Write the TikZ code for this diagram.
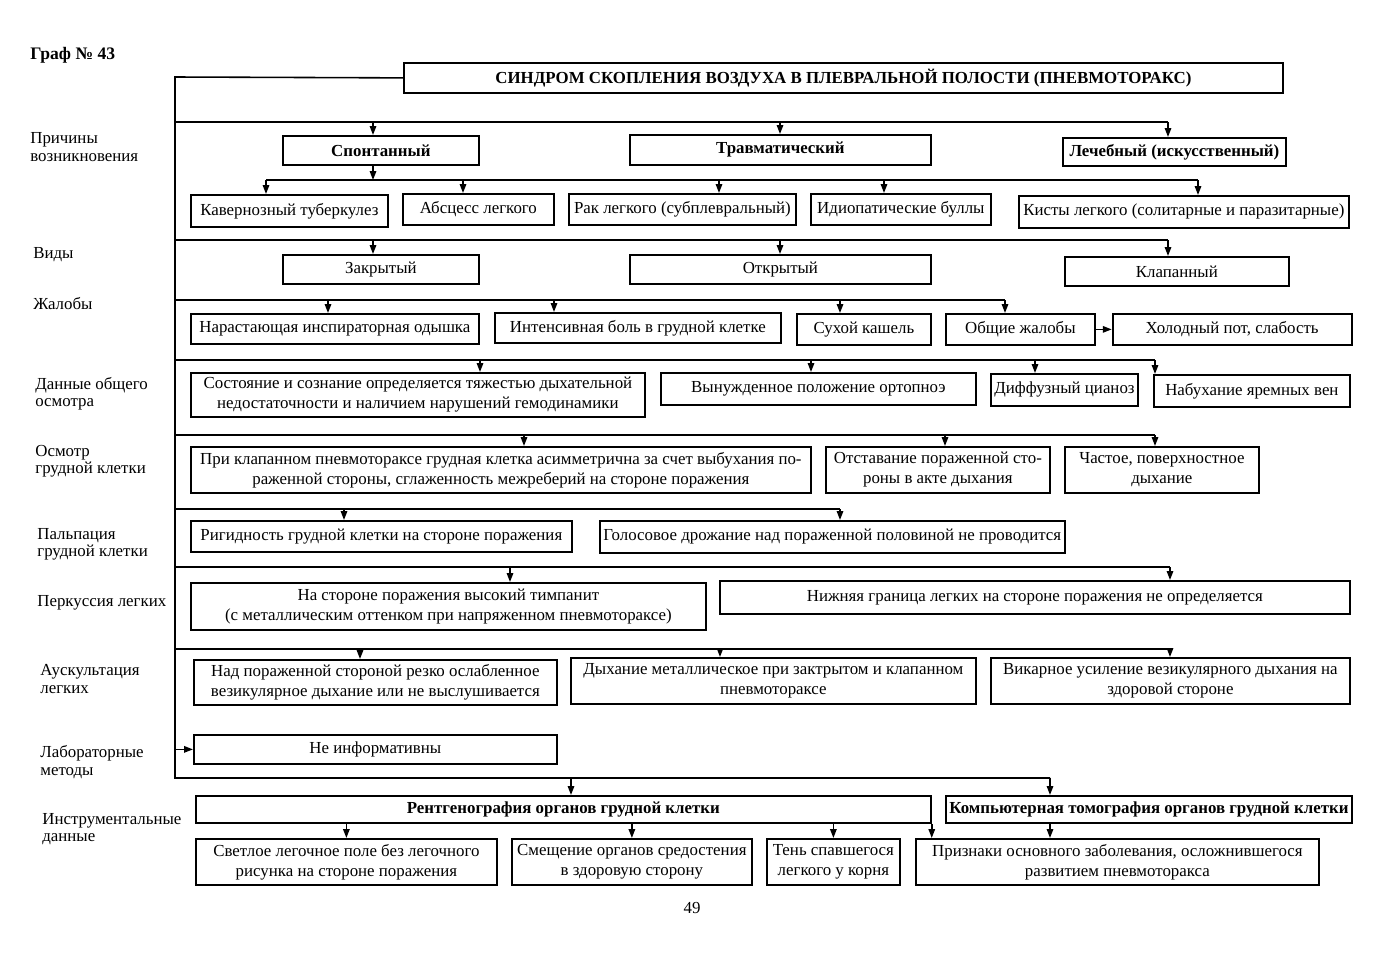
\documentclass[tikz,border=0pt]{standalone}
\usepackage{fontspec}
\setmainfont{Liberation Serif}
\usepackage{tikz}
\usetikzlibrary{arrows.meta, positioning, calc}

\begin{document}
\begin{tikzpicture}[
  x=0.02cm, y=-0.02cm,
  every node/.style={font=\fontsize{9.6}{11.3}\selectfont},
  box/.style={draw, line width=1pt, align=center, inner sep=2pt, anchor=north west},
  wh/.style 2 args={minimum width=#1*0.02cm, minimum height=#2*0.02cm},
  lbl/.style={anchor=west, align=left, inner sep=0pt, font=\fontsize{9.6}{9.8}\selectfont},
  line/.style={line width=0.9pt},
  arr/.style={line width=0.9pt, -{Triangle[length=5pt,width=3.6pt]}}
]
  \useasboundingbox (0,0) rectangle (1379,960);

  \node[anchor=west, inner sep=0pt, font=\bfseries\fontsize{10}{12}\selectfont] (graf) at (30,55) {Граф № 43};
  \node[box, wh={879}{30}, font=\bfseries\fontsize{9.6}{11.3}\selectfont] (title) at (403,62)
    {СИНДРОМ СКОПЛЕНИЯ ВОЗДУХА В ПЛЕВРАЛЬНОЙ ПОЛОСТИ (ПНЕВМОТОРАКС)};

  % row labels
  \node[lbl] (l1) at (30,147) {Причины\\возникновения};
  \node[lbl] (l2) at (33,255) {Виды};
  \node[lbl] (l3) at (33,304) {Жалобы};
  \node[lbl] (l4) at (35,394) {Данные общего\\осмотра};
  \node[lbl] (l5) at (35,461) {Осмотр\\грудной клетки};
  \node[lbl] (l6) at (37,544) {Пальпация\\грудной клетки};
  \node[lbl] (l7) at (37,603) {Перкуссия легких};
  \node[lbl] (l8) at (40,679) {Аускультация\\легких};
  \node[lbl] (l9) at (40,762) {Лабораторные\\методы};
  \node[lbl] (l10) at (42,829) {Инструментальные\\данные};

  % causes
  \node[box, wh={196}{29}] (spont) at (282,135) {\textbf{Спонтанный}};
  \node[box, wh={301}{30}] (travm) at (629,134) {\textbf{Травматический}};
  \node[box, wh={223}{28}] (lech) at (1062,137) {\textbf{Лечебный (искусственный)}};
  \node[box, wh={197}{32}] (kav) at (190,194) {Кавернозный туберкулез};
  \node[box, wh={151}{31}] (absc) at (402,193) {Абсцесс легкого};
  \node[box, wh={227}{31}] (rak) at (568,193) {Рак легкого (субплевральный)};
  \node[box, wh={180}{31}] (bull) at (810,193) {Идиопатические буллы};
  \node[box, wh={330}{32}] (kist) at (1018,195) {Кисты легкого (солитарные и паразитарные)};

  % kinds
  \node[box, wh={196}{29}] (zakr) at (282,254) {Закрытый};
  \node[box, wh={301}{29}] (otkr) at (629,254) {Открытый};
  \node[box, wh={224}{29}] (klap) at (1064,256) {Клапанный};

  % complaints
  \node[box, wh={288}{30}] (odysh) at (190,313) {Нарастающая инспираторная одышка};
  \node[box, wh={286}{30}] (bol) at (494,312) {Интенсивная боль в грудной клетке};
  \node[box, wh={134}{31}] (kash) at (796,313) {Сухой кашель};
  \node[box, wh={149}{31}] (obsch) at (945,313) {Общие жалобы};
  \node[box, wh={239}{31}, right=0.32cm of obsch] (pot) {Холодный пот, слабость};

  % general examination
  \node[box, wh={454}{44}] (sost) at (190,372) {Состояние и сознание определяется тяжестью дыхательной\\недостаточности и наличием нарушений гемодинамики};
  \node[box, wh={315}{32}] (ortop) at (660,372) {Вынужденное положение ортопноэ};
  \node[box, wh={147}{32}] (cian) at (990,373) {Диффузный цианоз};
  \node[box, wh={196}{32}] (ven) at (1153,374) {Набухание яремных вен};

  % chest inspection
  \node[box, wh={620}{46}] (asim) at (190,446) {При клапанном пневмотораксе грудная клетка асимметрична за счет выбухания по-\\раженной стороны, сглаженность межреберий на стороне поражения};
  \node[box, wh={224}{46}] (otst) at (825,446) {Отставание пораженной сто-\\роны в акте дыхания};
  \node[box, wh={194}{46}] (chast) at (1064,446) {Частое, поверхностное\\дыхание};

  % palpation
  \node[box, wh={381}{31}] (rigid) at (190,520) {Ригидность грудной клетки на стороне поражения};
  \node[box, wh={464}{32}] (golos) at (599,520) {Голосовое дрожание над пораженной половиной не проводится};

  % percussion
  \node[box, wh={515}{47}] (timp) at (190,582) {На стороне поражения высокий тимпанит\\(с металлическим оттенком при напряженном пневмотораксе)};
  \node[box, wh={630}{33}] (granica) at (719,580) {Нижняя граница легких на стороне поражения не определяется};

  % auscultation
  \node[box, wh={363}{45}] (oslab) at (193,659) {Над пораженной стороной резко ослабленное\\везикулярное дыхание или не выслушивается};
  \node[box, wh={405}{46}] (metall) at (570,657) {Дыхание металлическое при зактрытом и клапанном\\пневмотораксе};
  \node[box, wh={359}{46}] (vikar) at (990,657) {Викарное усиление везикулярного дыхания на\\здоровой стороне};

  % laboratory
  \node[box, wh={363}{29}] (lab) at (193,734) {Не информативны};

  % instrumental
  \node[box, wh={735}{27}] (rentg) at (195,795) {\textbf{Рентгенография органов грудной клетки}};
  \node[box, wh={404}{27}] (komp) at (945,795) {\textbf{Компьютерная томография органов грудной клетки}};
  \node[box, wh={301}{46}] (svetl) at (195,838) {Светлое легочное поле без легочного\\рисунка на стороне поражения};
  \node[box, wh={240}{46}] (smesch) at (511,838) {Смещение органов средостения\\в здоровую сторону};
  \node[box, wh={133}{46}] (ten) at (766,838) {Тень спавшегося\\легкого у корня};
  \node[box, wh={403}{46}] (prizn) at (915,838) {Признаки основного заболевания, осложнившегося\\развитием пневмоторакса};

  \node (page) at (692,908) {49};

  % trunk
  \coordinate (trunk) at (175,77);
  \coordinate (k2) at (1050,778);
  \draw[line] (title.west) -- (trunk) -- (trunk |- k2) -- (k2);

  % causes
  \path (373,122) coordinate (a1) (780,122) coordinate (a2) (1168,122) coordinate (a3);
  \draw[line] (trunk |- a1) -- (a3);
  \draw[arr] (a1) -- (a1 |- spont.north);
  \draw[arr] (a2) -- (a2 |- travm.north);
  \draw[arr] (a3) -- (a3 |- lech.north);
  \path (373,180) coordinate (s0) (266,180) coordinate (s1) (463,180) coordinate (s2)
    (719,180) coordinate (s3) (884,180) coordinate (s4) (1198,180) coordinate (s5);
  \draw[arr] (s0 |- spont.south) -- (s0);
  \draw[line] (s1) -- (s5);
  \draw[arr] (s1) -- (s1 |- kav.north);
  \draw[arr] (s2) -- (s2 |- absc.north);
  \draw[arr] (s3) -- (s3 |- rak.north);
  \draw[arr] (s4) -- (s4 |- bull.north);
  \draw[arr] (s5) -- (s5 |- kist.north);

  % kinds
  \path (373,240) coordinate (b1) (780,240) coordinate (b2) (1168,240) coordinate (b3);
  \draw[line] (trunk |- b1) -- (b3);
  \draw[arr] (b1) -- (b1 |- zakr.north);
  \draw[arr] (b2) -- (b2 |- otkr.north);
  \draw[arr] (b3) -- (b3 |- klap.north);

  % complaints
  \path (328,300) coordinate (c1) (554,300) coordinate (c2) (840,300) coordinate (c3) (1005,300) coordinate (c4);
  \draw[line] (trunk |- c1) -- (c4);
  \draw[arr] (c1) -- (c1 |- odysh.north);
  \draw[arr] (c2) -- (c2 |- bol.north);
  \draw[arr] (c3) -- (c3 |- kash.north);
  \draw[arr] (c4) -- (c4 |- obsch.north);
  \draw[arr] (obsch.east) -- (obsch.east -| pot.west);

  % general examination
  \path (480,360) coordinate (d1) (811,360) coordinate (d2) (1035,360) coordinate (d3) (1155,360) coordinate (d4);
  \draw[line] (trunk |- d1) -- (d4);
  \draw[arr] (d1) -- (d1 |- sost.north);
  \draw[arr] (d2) -- (d2 |- ortop.north);
  \draw[arr] (d3) -- (d3 |- cian.north);
  \draw[arr] (d4) -- (d4 |- ven.north);

  % chest inspection
  \path (524,435) coordinate (e1) (945,435) coordinate (e2) (1155,435) coordinate (e3);
  \draw[line] (trunk |- e1) -- (e3);
  \draw[arr] (e1) -- (e1 |- asim.north);
  \draw[arr] (e2) -- (e2 |- otst.north);
  \draw[arr] (e3) -- (e3 |- chast.north);

  % palpation
  \path (344,509) coordinate (f1) (840,509) coordinate (f2);
  \draw[line] (trunk |- f1) -- (f2);
  \draw[arr] (f1) -- (f1 |- rigid.north);
  \draw[arr] (f2) -- (f2 |- golos.north);

  % percussion
  \path (510,567) coordinate (g1) (1170,567) coordinate (g2);
  \draw[line] (trunk |- g1) -- (g2);
  \draw[arr] (g1) -- (g1 |- timp.north);
  \draw[arr] (g2) -- (g2 |- granica.north);

  % auscultation
  \path (360,649) coordinate (h1) (720,649) coordinate (h2) (1170,649) coordinate (h3);
  \draw[line] (trunk |- h1) -- (h3);
  \draw[arr] (h1) -- (h1 |- oslab.north);
  \draw[arr] (h2) -- (h2 |- metall.north);
  \draw[arr] (h3) -- (h3 |- vikar.north);

  % laboratory
  \draw[arr] (trunk |- lab.west) -- (lab.west);

  % instrumental
  \coordinate (k1) at (571,778);
  \draw[arr] (k1) -- (k1 |- rentg.north);
  \draw[arr] (k2) -- (k2 |- komp.north);
  \draw[arr] (svetl.north |- rentg.south) -- (svetl.north);
  \draw[arr] (smesch.north |- rentg.south) -- (smesch.north);
  \draw[arr] (ten.north |- rentg.south) -- (ten.north);
  \draw[arr] (rentg.south east) -- (rentg.south east |- prizn.north);
  \draw[arr] (k2 |- komp.south) -- (k2 |- prizn.north);
\end{tikzpicture}
\end{document}
